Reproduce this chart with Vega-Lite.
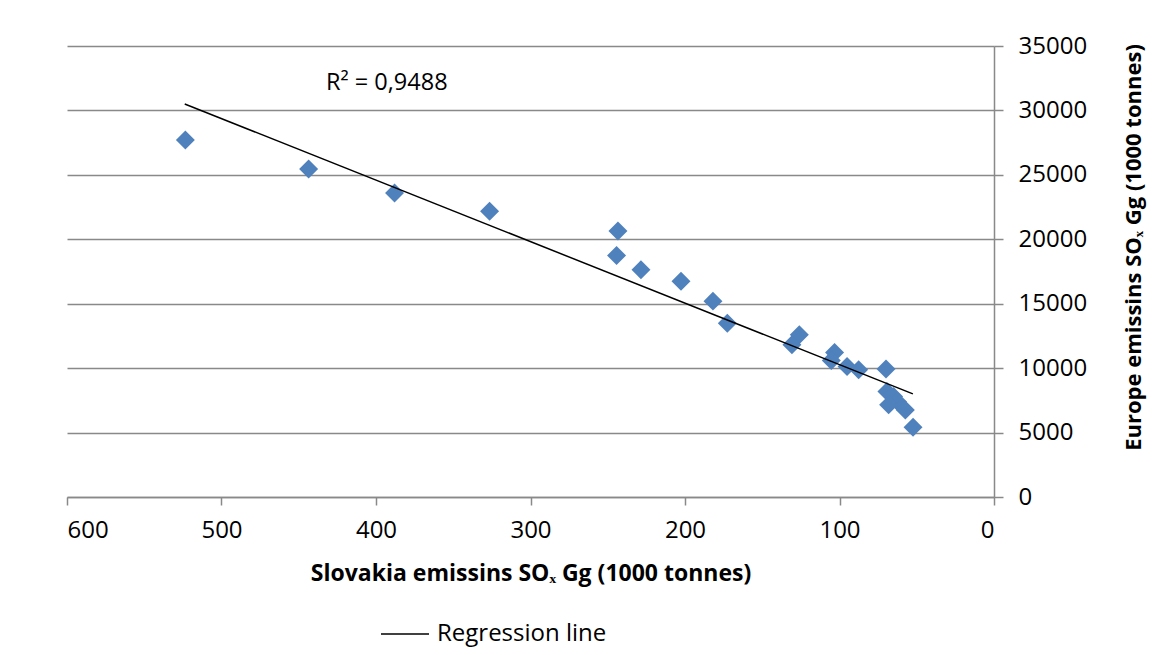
{
  "$schema": "https://vega.github.io/schema/vega-lite/v6.json",
  "width": 927,
  "height": 451,
  "autosize": {"type": "none"},
  "padding": {"left": 67, "top": 46, "right": 161, "bottom": 158},
  "background": "white",
  "config": {"view": {"stroke": null}, "font": "Open Sans"},
  "layer": [
    {
      "data": {"values": [
        {"slovakia": 523.4, "europe": 27700},
        {"slovakia": 443.6, "europe": 25450},
        {"slovakia": 388.0, "europe": 23600},
        {"slovakia": 326.5, "europe": 22180},
        {"slovakia": 243.4, "europe": 20650},
        {"slovakia": 244.3, "europe": 18750},
        {"slovakia": 228.5, "europe": 17640},
        {"slovakia": 202.6, "europe": 16750},
        {"slovakia": 181.9, "europe": 15200},
        {"slovakia": 172.6, "europe": 13480},
        {"slovakia": 126.0, "europe": 12600},
        {"slovakia": 130.8, "europe": 11820},
        {"slovakia": 103.2, "europe": 11220},
        {"slovakia": 105.3, "europe": 10600},
        {"slovakia": 95.1, "europe": 10130},
        {"slovakia": 87.6, "europe": 9875},
        {"slovakia": 69.9, "europe": 9930},
        {"slovakia": 69.3, "europe": 8190},
        {"slovakia": 65.0, "europe": 7800},
        {"slovakia": 62.4, "europe": 7400},
        {"slovakia": 68.2, "europe": 7150},
        {"slovakia": 57.4, "europe": 6760},
        {"slovakia": 52.4, "europe": 5410}
      ]},
      "mark": {"type": "point", "shape": "diamond", "filled": true, "size": 360, "color": "#4F81BD", "opacity": 1},
      "encoding": {
        "x": {
          "field": "slovakia", "type": "quantitative",
          "scale": {"domain": [0, 600], "reverse": true, "nice": false, "zero": false},
          "axis": {
            "title": "Slovakia emissins SOₓ Gg (1000 tonnes)",
            "values": [0, 100, 200, 300, 400, 500, 600],
            "format": "d",
            "grid": false,
            "domainColor": "#898989", "domainWidth": 1.5,
            "tickColor": "#898989", "tickWidth": 1.5, "tickSize": 8,
            "labelFontSize": 24, "labelColor": "black", "labelPadding": 13, "labelFont": "Open Sans",
            "titleFontSize": 23, "titleFontWeight": "bold", "titleColor": "black", "titlePadding": 20, "titleFont": "Open Sans"
          }
        },
        "y": {
          "field": "europe", "type": "quantitative",
          "scale": {"domain": [0, 35000], "nice": false},
          "axis": {
            "orient": "right",
            "title": "Europe emissins SOₓ Gg (1000 tonnes)",
            "values": [0, 5000, 10000, 15000, 20000, 25000, 30000, 35000],
            "format": "d",
            "grid": true, "gridColor": "#898989", "gridWidth": 1.5,
            "domainColor": "#898989", "domainWidth": 1.5,
            "tickColor": "#898989", "tickWidth": 1.5, "tickSize": 9,
            "labelFontSize": 24, "labelColor": "black", "labelPadding": 15, "labelFont": "Open Sans",
            "titleFontSize": 22, "titleFontWeight": "bold", "titleColor": "black", "titleFont": "Open Sans",
            "titleAngle": 270, "titleX": 139, "titleY": 201, "titleAlign": "center", "titleBaseline": "middle"
          }
        }
      }
    },
    {
      "data": {"values": [
        {"slovakia": 523.8, "europe": 30500, "series": "Regression line"},
        {"slovakia": 52.5, "europe": 8006, "series": "Regression line"}
      ]},
      "mark": {"type": "line", "strokeWidth": 1.5},
      "encoding": {
        "x": {"field": "slovakia", "type": "quantitative"},
        "y": {"field": "europe", "type": "quantitative"},
        "color": {
          "field": "series", "type": "nominal",
          "scale": {"range": ["black"]},
          "legend": {
            "title": null, "orient": "none", "legendX": 313, "legendY": 563,
            "symbolType": "stroke", "symbolSize": 2304, "symbolStrokeWidth": 1.5, "symbolStrokeColor": "black",
            "labelFontSize": 24, "labelColor": "black", "labelFont": "Open Sans", "labelOffset": 7, "labelLimit": 400
          }
        }
      }
    },
    {
      "data": {"values": [{"slovakia": 393, "europe": 32150, "label": "R² = 0,9488"}]},
      "mark": {"type": "text", "fontSize": 23.5, "font": "Open Sans", "color": "black", "align": "center", "baseline": "middle"},
      "encoding": {
        "x": {"field": "slovakia", "type": "quantitative"},
        "y": {"field": "europe", "type": "quantitative"},
        "text": {"field": "label"}
      }
    }
  ]
}
